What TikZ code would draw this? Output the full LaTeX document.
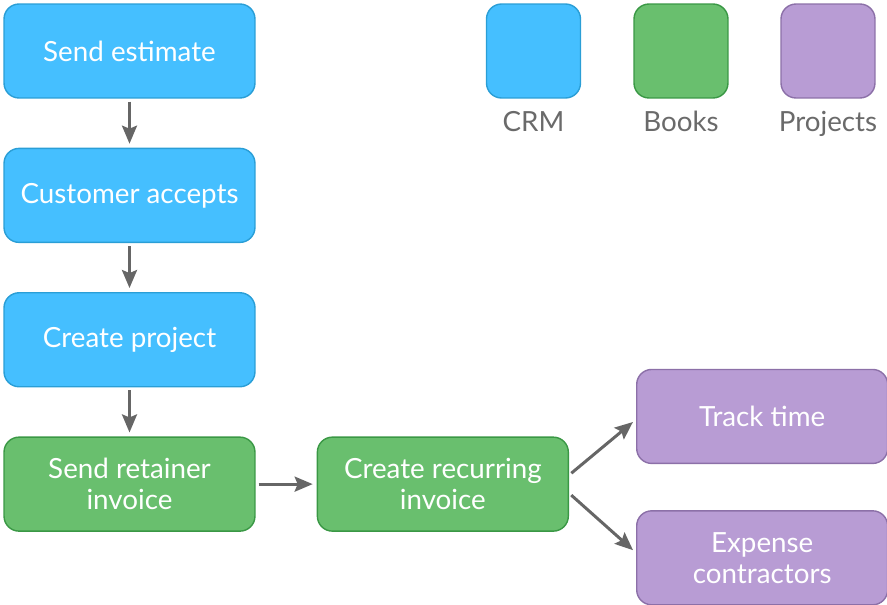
\documentclass[tikz,border=0pt]{standalone}
\usepackage{fontspec}
\setmainfont{Lato}
\usepackage{tikz}
\usetikzlibrary{
	positioning,
	arrows.meta
}

\definecolor{crmfill}{HTML}{45BFFF}
\definecolor{crmline}{HTML}{2A9ED6}
\definecolor{booksfill}{HTML}{69BF6E}
\definecolor{booksline}{HTML}{3A9845}
\definecolor{projfill}{HTML}{B89CD4}
\definecolor{projline}{HTML}{8C70A8}
\definecolor{arrowgray}{HTML}{666666}
\definecolor{legendgray}{HTML}{6A6A6A}

\tikzset{
	task/.style={
		rounded corners=0.3cm,
		line width=0.8pt,
		minimum width=5.02cm,
		minimum height=1.88cm,
		align=center,
		text=white,
		font=\fontsize{15.8}{17.5}\selectfont
	},
	crm/.style={task,fill=crmfill,draw=crmline},
	books/.style={task,fill=booksfill,draw=booksline},
	proj/.style={task,fill=projfill,draw=projline},
	swatch/.style={task,minimum width=1.88cm},
	legendtext/.style={
		inner sep=0pt,
		text height=2.4ex,
		text depth=0.6ex,
		text=legendgray,
		font=\fontsize{15.8}{17.5}\selectfont
	},
	flow/.style={
		draw=arrowgray,
		line width=1.7pt,
		-{Stealth[length=0.36cm,width=0.3cm,inset=0.06cm]},
		shorten <=0.06cm,
		shorten >=0.08cm
	}
}

\begin{document}
\begin{tikzpicture}[x=0.02cm,y=-0.02cm,node distance=0.98cm]
	\useasboundingbox (0,0) rectangle (887,605);

	\draw
		node[crm]                  (send)   at (129.5,51) {Send estimate}
		node[crm,below=of send]    (accept) {Customer accepts}
		node[crm,below=of accept]  (create) {Create project}
		node[books,below=of create] (retain) {Send retainer\\invoice}
		node[books,right=1.22cm of retain] (recur) {Create recurring\\invoice}
		node[proj,above right=0.4cm and 1.34cm of recur.east,anchor=south west] (track) {Track time}
		node[proj,below right=0.52cm and 1.34cm of recur.east,anchor=north west] (expense) {Expense\\contractors}

		(send)   edge[flow] (accept)
		(accept) edge[flow] (create)
		(create) edge[flow] (retain)
		(retain) edge[flow] (recur)
		([yshift=0.18cm]recur.east)  edge[flow] ([yshift=-0.06cm]track.west)
		([yshift=-0.18cm]recur.east) edge[flow] ([yshift=0.1cm]expense.west)
	;

	% legend
	\draw
		node[crm,swatch]   (crmkey)   at (533.5,51) {}
		node[books,swatch] (bookskey) at (681,51)   {}
		node[proj,swatch]  (projkey)  at (828,51)   {}

		node[legendtext,below=0.22cm of crmkey]   (crmtext)   {CRM}
		node[legendtext,below=0.22cm of bookskey] (bookstext) {Books}
		node[legendtext,below=0.22cm of projkey]  (projtext)  {Projects}
	;
\end{tikzpicture}
\end{document}
